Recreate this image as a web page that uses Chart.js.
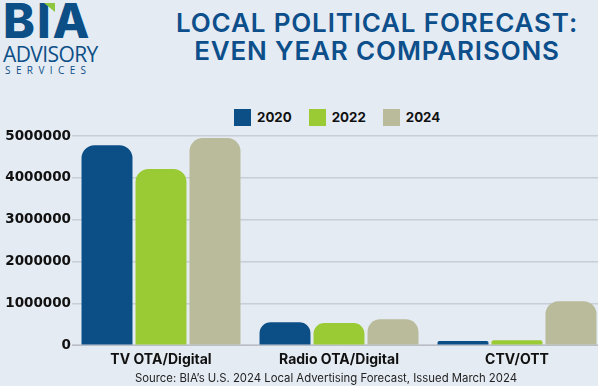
<!DOCTYPE html>
<html>
<head>
<meta charset="utf-8">
<script src="https://cdn.jsdelivr.net/npm/chart.js@4.4.1/dist/chart.umd.min.js"></script>
<style>
  html, body { margin: 0; padding: 0; }
  body { width: 598px; height: 386px; background: #e5ebf3; position: relative; overflow: hidden; font-family: Inter, "Open Sans", sans-serif; }
  .logo { position: absolute; left: 3px; top: 0; color: #0c4f87; }
  .logo .bia { font: 800 48px/48px Inter, sans-serif; letter-spacing: 2px; position: absolute; left: 0; top: -3px; white-space: nowrap; }
  .logo .bia .tick { position: absolute; left: 41px; top: 6px; width: 0; height: 0; border-left: 11px solid transparent; border-top: 9px solid #8dc63f; }
  .logo .adv { font: 400 21px/21px "Open Sans", sans-serif; position: absolute; left: 0; top: 44px; letter-spacing: -0.6px; white-space: nowrap; }
  .logo .ser { font: 400 10px/10px "Open Sans", sans-serif; position: absolute; left: 2px; top: 65px; letter-spacing: 5.4px; white-space: nowrap; }
  .title { position: absolute; left: 160px; width: 434px; top: 9px; text-align: center; color: #0d4f8b; font: 600 26px/28px Inter, sans-serif; letter-spacing: 0.85px; }
  .legend { position: absolute; top: 106px; left: 234px; display: flex; font: 700 13.3px/22px Inter, sans-serif; color: #111; }
  .legend span { display: flex; align-items: center; margin-right: 17px; }
  .legend i { display: inline-block; width: 17px; height: 17px; margin-right: 6px; }
  #wrap { position: absolute; left: 0; top: 119px; width: 606px; height: 255px; }
  .source { position: absolute; top: 370px; left: 46px; width: 560px; text-align: center; font: 400 11.35px/16px Inter, sans-serif; color: #222; }
</style>
</head>
<body>
<div class="logo">
  <div class="bia">BIA<span class="tick"></span></div>
  <div class="adv">ADVISORY</div>
  <div class="ser">SERVICES</div>
</div>
<div class="title">LOCAL POLITICAL FORECAST:<br>EVEN YEAR COMPARISONS</div>
<div class="legend" id="legend"></div>
<div id="wrap"><canvas id="chart"></canvas></div>
<div class="source">Source: BIA’s U.S. 2024 Local Advertising Forecast, Issued March 2024</div>
<script>
const categories = ['TV OTA/Digital', 'Radio OTA/Digital', 'CTV/OTT'];
const seriesNames = ['2020', '2022', '2024'];
const values2020 = [4780000, 550000, 100000];
const values2022 = [4210000, 530000, 120000];
const values2024 = [4950000, 620000, 1050000];
const colors = ['#0c4f87', '#9aca34', '#b9bb9b'];
const yTicks = [0, 1000000, 2000000, 3000000, 4000000, 5000000];

document.addEventListener('DOMContentLoaded', () => {
  // legend in html so it can sit off-centre like the original
  const lg = document.getElementById('legend');
  seriesNames.forEach((n, i) => {
    const s = document.createElement('span');
    s.innerHTML = `<i style="background:${colors[i]}"></i>${n}`;
    lg.appendChild(s);
  });

  const sets = [values2020, values2022, values2024].map((v, i) => ({
    label: seriesNames[i],
    data: v,
    backgroundColor: colors[i],
    borderRadius: { topLeft: 13, topRight: 13 },
    borderSkipped: 'bottom',
    categoryPercentage: 0.91,
    barPercentage: 0.944
  }));

  new Chart(document.getElementById('chart'), {
    type: 'bar',
    data: { labels: categories, datasets: sets },
    options: {
      responsive: true,
      maintainAspectRatio: false,
      animation: false,
      layout: { padding: { top: 17, right: 0, left: 0, bottom: 0 } },
      plugins: { legend: { display: false }, tooltip: { enabled: false } },
      scales: {
        x: {
          grid: { display: false, drawTicks: false },
          border: { display: true, color: '#b9bec6', width: 1 },
          ticks: { color: '#111', padding: 6, font: { family: 'Inter', size: 14, weight: '700' } }
        },
        y: {
          min: 0,
          max: 5000000,
          afterBuildTicks: s => { s.ticks = yTicks.map(v => ({ value: v })); },
          afterFit: s => { s.width = 72; },
          grid: { color: '#c9ced6', lineWidth: 1.5, drawTicks: false },
          border: { display: false },
          ticks: { color: '#111', padding: 1, font: { family: 'DejaVu Sans', size: 13.5, weight: '700' }, callback: v => String(v) }
        }
      }
    }
  });
});
</script>
</body>
</html>
